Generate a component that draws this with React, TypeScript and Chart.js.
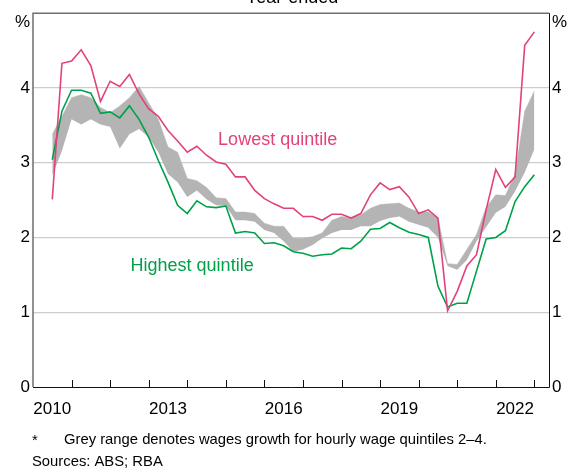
import React, { useEffect, useRef } from 'react';
import { Chart, registerables } from 'chart.js';

Chart.register(...registerables);

// Quarterly observations, June quarter 2010 to December quarter 2022
const firstQuarter = 2010.5;
const quarterStep = 0.25;

const lowestQuintile = [
  2.51, 4.33, 4.36, 4.51, 4.30, 3.82, 4.09, 4.02, 4.18, 3.92,
  3.72, 3.62, 3.43, 3.29, 3.14, 3.22, 3.10, 3.01, 2.98, 2.81,
  2.81, 2.63, 2.52, 2.45, 2.39, 2.39, 2.28, 2.28, 2.23, 2.31,
  2.31, 2.26, 2.32, 2.57, 2.73, 2.64, 2.68, 2.54, 2.32, 2.37,
  2.26, 1.02, 1.28, 1.62, 1.77, 2.37, 2.91, 2.67, 2.81, 4.57,
  4.75,
];

const highestQuintile = [
  3.04, 3.69, 3.97, 3.97, 3.93, 3.66, 3.68, 3.60, 3.76, 3.58,
  3.34, 3.03, 2.74, 2.43, 2.32, 2.49, 2.41, 2.40, 2.42, 2.06,
  2.08, 2.06, 1.92, 1.93, 1.89, 1.81, 1.79, 1.75, 1.77, 1.78,
  1.86, 1.85, 1.95, 2.11, 2.12, 2.20, 2.13, 2.07, 2.04, 2.00,
  1.35, 1.07, 1.12, 1.12, 1.55, 1.98, 2.00, 2.09, 2.48, 2.68,
  2.84,
];

const rangeUpper = [
  3.38, 3.62, 3.87, 3.91, 3.87, 3.74, 3.67, 3.76, 3.87, 4.02,
  3.80, 3.58, 3.21, 3.14, 2.79, 2.76, 2.67, 2.53, 2.52, 2.34,
  2.34, 2.32, 2.19, 2.15, 2.15, 1.99, 1.99, 2.01, 2.06, 2.23,
  2.28, 2.26, 2.30, 2.39, 2.44, 2.45, 2.46, 2.39, 2.34, 2.34,
  2.26, 1.65, 1.64, 1.84, 2.04, 2.40, 2.57, 2.56, 2.85, 3.69,
  3.96,
];

const rangeLower = [
  2.83, 3.16, 3.58, 3.51, 3.58, 3.51, 3.48, 3.19, 3.38, 3.45,
  3.34, 3.14, 2.85, 2.74, 2.54, 2.63, 2.51, 2.43, 2.42, 2.23,
  2.23, 2.21, 2.10, 2.06, 1.95, 1.81, 1.84, 1.90, 1.99, 2.06,
  2.10, 2.10, 2.15, 2.15, 2.22, 2.26, 2.28, 2.21, 2.17, 2.13,
  2.00, 1.62, 1.57, 1.70, 1.95, 2.14, 2.33, 2.41, 2.62, 2.87,
  3.18,
];

const yearTickMarks = [2011, 2012, 2013, 2014, 2015, 2016, 2017, 2018, 2019, 2020, 2021, 2022, 2023];
const yearLabels = [2010, 2013, 2016, 2019, 2022];
const yTickValues = [0, 1, 2, 3, 4];

const X_MIN = 2010;
const X_MAX = 2023.38;
const Y_MIN = 0;
const Y_MAX = 5;

const PINK = '#E2427C';
const GREEN = '#00A04B';
const GREY = '#B4B4B4';
const FONT = "'Liberation Sans', Arial, sans-serif";

const title = 'Year-ended';
const lowestLabel = 'Lowest quintile';
const highestLabel = 'Highest quintile';
const footnoteMark = '*';
const footnoteText = 'Grey range denotes wages growth for hourly wage quintiles 2–4.';
const sourcesText = 'Sources: ABS; RBA';

const toPoints = (vals: number[]) =>
  vals.map((y, i) => ({ x: firstQuarter + i * quarterStep, y }));

const decorPlugin = {
  id: 'decor',
  afterDatasetsDraw(chart: any) {
    const { ctx, chartArea, scales } = chart;
    const { left, right, top, bottom } = chartArea;
    const xs = scales.x;
    const ys = scales.y;
    ctx.save();

    // frame
    ctx.lineWidth = 1.5;
    ctx.strokeStyle = '#6E6E6E';
    ctx.beginPath();
    ctx.moveTo(left, bottom);
    ctx.lineTo(left, top);
    ctx.lineTo(right, top);
    ctx.stroke();
    ctx.lineWidth = 1;
    ctx.strokeStyle = '#111';
    ctx.beginPath();
    ctx.moveTo(Math.round(right) + 0.5, top);
    ctx.lineTo(Math.round(right) + 0.5, Math.round(bottom) + 0.5);
    ctx.lineTo(left, Math.round(bottom) + 0.5);
    ctx.stroke();

    // inward year ticks
    ctx.beginPath();
    yearTickMarks.forEach((v) => {
      const px = Math.round(xs.getPixelForValue(v)) + 0.5;
      ctx.moveTo(px, bottom);
      ctx.lineTo(px, bottom - 7);
    });
    ctx.stroke();

    // % unit labels
    ctx.fillStyle = '#000';
    ctx.font = `17px ${FONT}`;
    ctx.textBaseline = 'middle';
    ctx.textAlign = 'right';
    ctx.fillText('%', left - 3, top + 9);
    ctx.textAlign = 'left';
    ctx.fillText('%', right + 3, top + 9);

    // series labels
    ctx.font = `18px ${FONT}`;
    ctx.textAlign = 'left';
    ctx.fillStyle = PINK;
    ctx.fillText(lowestLabel, xs.getPixelForValue(2014.8), ys.getPixelForValue(3.3));
    ctx.fillStyle = GREEN;
    ctx.fillText(highestLabel, xs.getPixelForValue(2012.53), ys.getPixelForValue(1.62));

    // title (cut off at top)
    ctx.fillStyle = '#000';
    ctx.font = `18px ${FONT}`;
    ctx.textAlign = 'center';
    ctx.textBaseline = 'alphabetic';
    ctx.fillText(title, 292, 3);

    // footnotes
    ctx.font = `14.8px ${FONT}`;
    ctx.textAlign = 'left';
    ctx.textBaseline = 'middle';
    ctx.fillText(footnoteMark, 32, 441);
    ctx.fillText(footnoteText, 64, 440);
    ctx.fillText(sourcesText, 32, 462);

    ctx.restore();
  },
};

export default function App() {
  const canvasRef = useRef<HTMLCanvasElement | null>(null);

  useEffect(() => {
    const canvas = canvasRef.current;
    if (!canvas) return;
    const tickFont = { family: FONT, size: 17 };
    const chart = new Chart(canvas, {
      type: 'line',
      data: {
        datasets: [
          {
            label: lowestLabel,
            data: toPoints(lowestQuintile),
            borderColor: PINK,
            borderWidth: 1.6,
            pointRadius: 0,
            fill: false,
            tension: 0,
            order: 1,
          },
          {
            label: highestLabel,
            data: toPoints(highestQuintile),
            borderColor: GREEN,
            borderWidth: 1.6,
            pointRadius: 0,
            fill: false,
            tension: 0,
            order: 1,
          },
          {
            label: 'Quintiles 2–4 lower',
            data: toPoints(rangeLower),
            borderColor: 'rgba(0,0,0,0)',
            borderWidth: 0,
            pointRadius: 0,
            fill: false,
            tension: 0,
            order: 3,
          },
          {
            label: 'Quintiles 2–4 upper',
            data: toPoints(rangeUpper),
            borderColor: GREY,
            borderWidth: 0.5,
            backgroundColor: GREY,
            pointRadius: 0,
            fill: '-1',
            tension: 0,
            order: 2,
          },
        ],
      },
      options: {
        responsive: false,
        animation: false,
        devicePixelRatio: 1,
        layout: { padding: { top: 9, left: 0, right: 0, bottom: 0 } },
        plugins: {
          legend: { display: false },
          tooltip: { enabled: false },
          title: { display: false },
        },
        scales: {
          x: {
            type: 'linear',
            position: 'bottom',
            min: X_MIN,
            max: X_MAX,
            afterBuildTicks: (s: any) => {
              s.ticks = yearLabels.map((v) => ({ value: v + 0.5 }));
            },
            ticks: {
              autoSkip: false,
              maxRotation: 0,
              font: tickFont,
              color: '#000',
              padding: 12,
              callback: (v: any) => String(Math.floor(Number(v))),
            },
            grid: { display: false, drawTicks: false },
            border: { display: false },
            afterFit: (s: any) => {
              s.height = 83;
            },
          },
          y: {
            position: 'left',
            min: Y_MIN,
            max: Y_MAX,
            afterBuildTicks: (s: any) => {
              s.ticks = yTickValues.map((v) => ({ value: v }));
            },
            ticks: { font: tickFont, color: '#000', padding: 3 },
            grid: {
              drawTicks: false,
              lineWidth: 1.2,
              color: (c: any) =>
                c.tick && c.tick.value === 0 ? 'rgba(0,0,0,0)' : '#CDCDCD',
            },
            border: { display: false },
            afterFit: (s: any) => {
              s.width = 33;
            },
          },
          y2: {
            position: 'right',
            min: Y_MIN,
            max: Y_MAX,
            afterBuildTicks: (s: any) => {
              s.ticks = yTickValues.map((v) => ({ value: v }));
            },
            ticks: { font: tickFont, color: '#000', padding: 3 },
            grid: { display: false, drawTicks: false },
            border: { display: false },
            afterFit: (s: any) => {
              s.width = 18;
            },
          },
        },
      },
      plugins: [decorPlugin],
    });
    return () => chart.destroy();
  }, []);

  return (
    <div style={{ position: 'absolute', left: 0, top: 0, width: 567, height: 470, background: '#fff' }}>
      <canvas ref={canvasRef} width={567} height={470} style={{ display: 'block' }} />
    </div>
  );
}
